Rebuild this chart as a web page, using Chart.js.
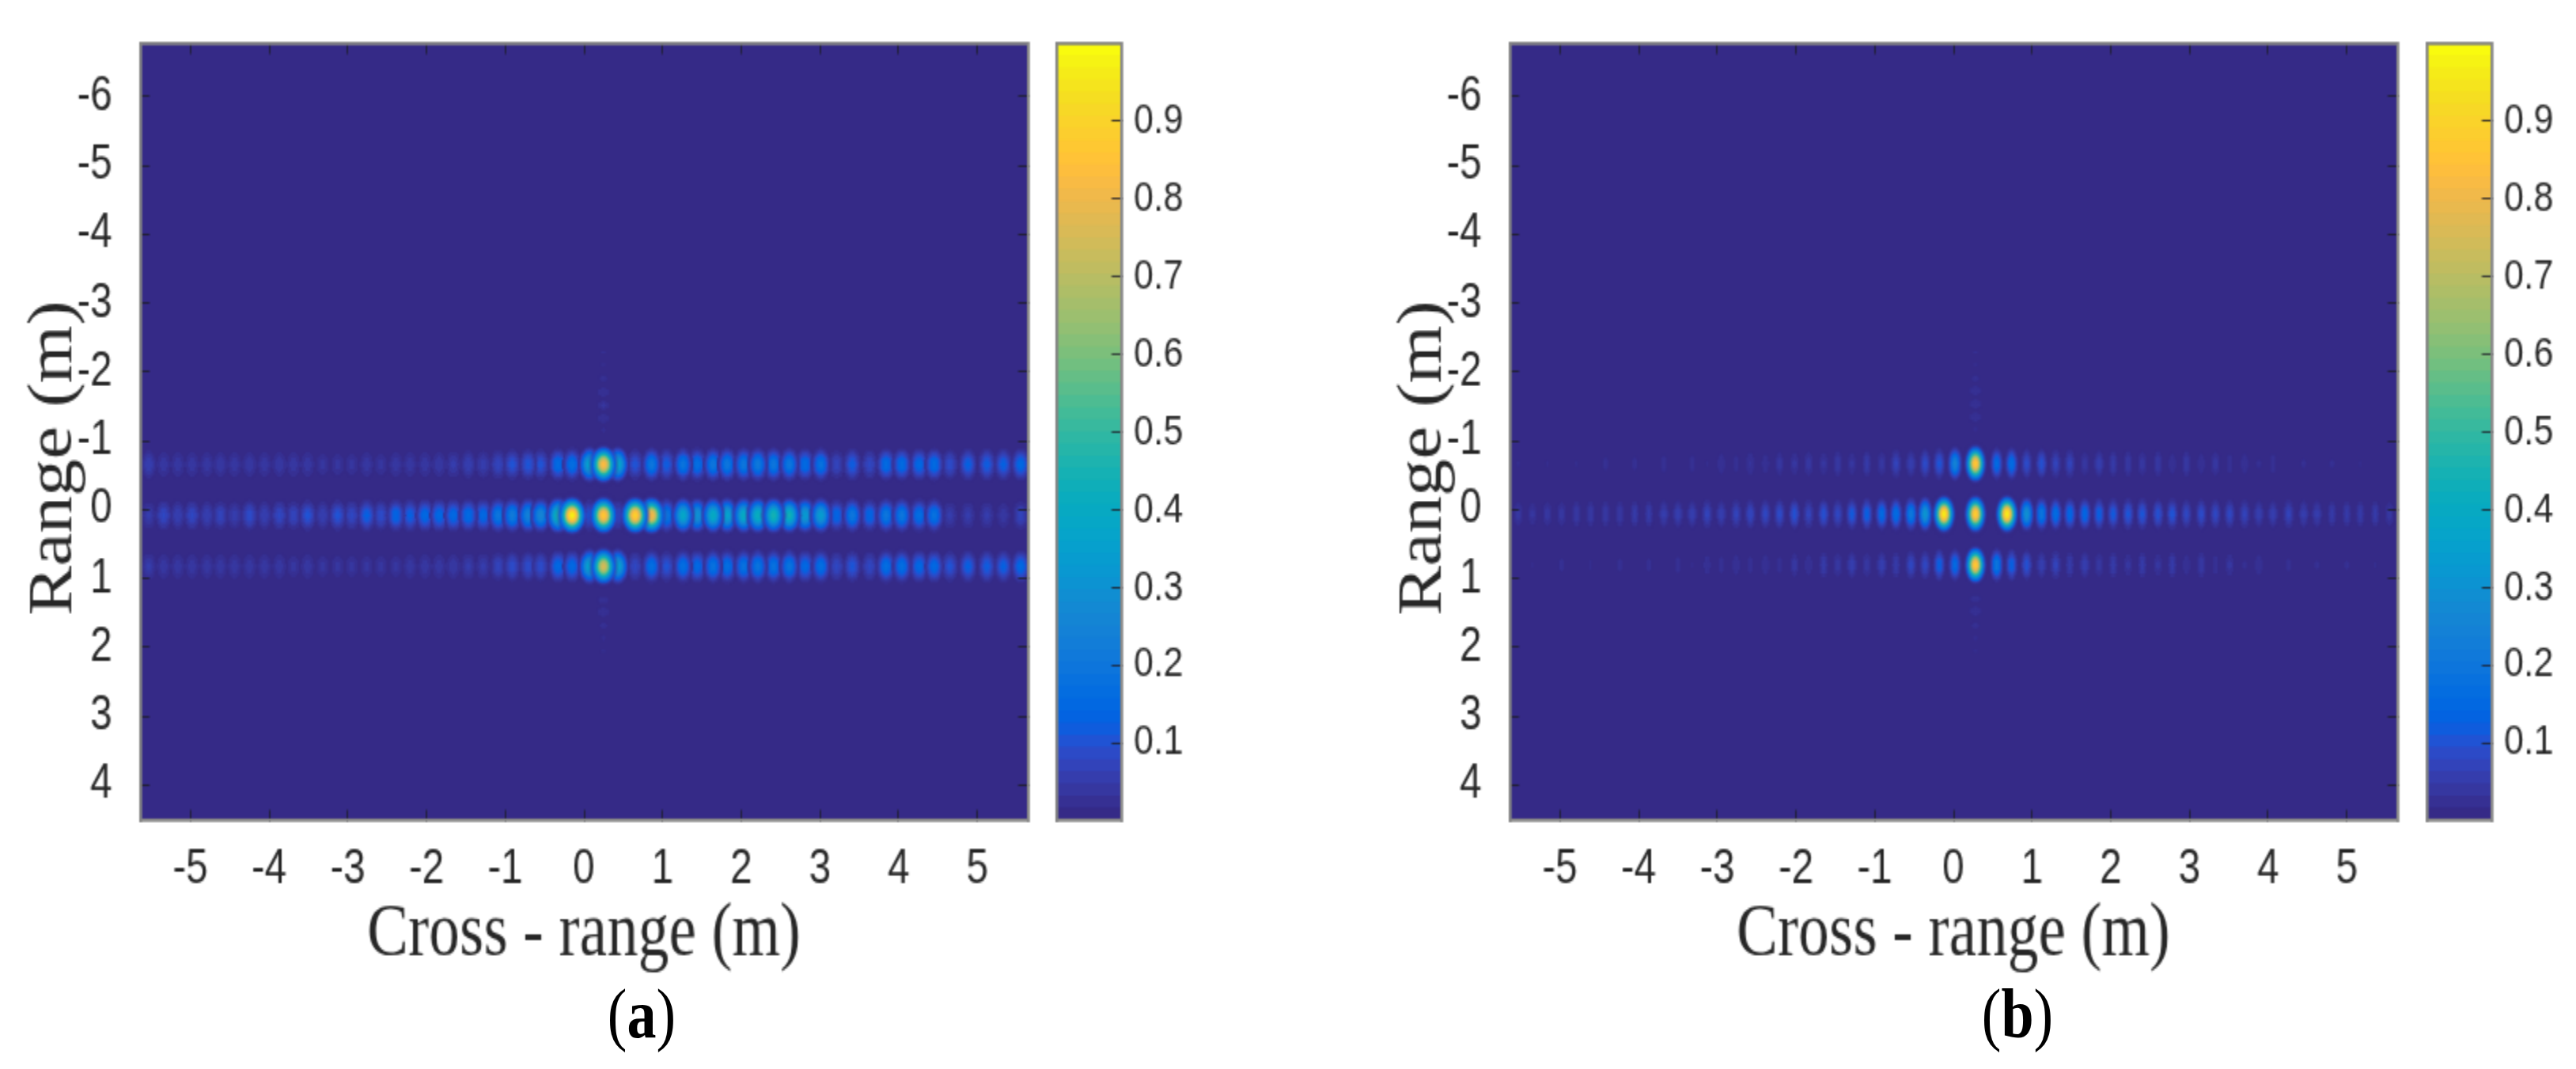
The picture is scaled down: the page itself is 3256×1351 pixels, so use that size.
<!DOCTYPE html>
<html>
<head>
<meta charset="utf-8">
<script src="https://cdn.jsdelivr.net/npm/chart.js@4/dist/chart.umd.min.js"></script>
<style>
  html, body { margin: 0; background: #fff; width: 3256px; height: 1351px; overflow: hidden; }
  canvas { position: absolute; top: 0; transform: scale(2, 2.4); transform-origin: 0 0; }
  .caption { position: absolute; top: 1231px; font: 74px "Liberation Serif"; color: #000;
             transform: translateX(-50%) scaleY(1.2); transform-origin: 50% 0; }
</style>
</head>
<body>
<canvas id="panelA" width="660" height="563" style="left:0"></canvas>
<canvas id="barA" width="110" height="563" style="left:1320px"></canvas>
<canvas id="panelB" width="660" height="563" style="left:1731px"></canvas>
<canvas id="barB" width="110" height="563" style="left:3052px"></canvas>
<div class="caption" style="left:811px">(<b>a</b>)</div>
<div class="caption" style="left:2550px">(<b>b</b>)</div>
<script>
const xTicks = [-5, -4, -3, -2, -1, 0, 1, 2, 3, 4, 5];
const yTicks = [-6, -5, -4, -3, -2, -1, 0, 1, 2, 3, 4];
const barTicks = [0.1, 0.2, 0.3, 0.4, 0.5, 0.6, 0.7, 0.8, 0.9];
const xRange = [-5.64, 5.64];
const yRange = [-6.77, 4.51];

// parula, 64 levels, same as the colorbar
const parula = ['#352a87','#363093','#3637a0','#353dad','#3243ba','#2c4ac7','#2053d4','#0f5cdd',
  '#0363e1','#0268e1','#046de0','#0871de','#0d75dc','#1079da','#127dd8','#1481d6',
  '#1485d4','#1389d3','#108ed2','#0c93d2','#0998d1','#079ccf','#06a0cd','#06a4ca',
  '#06a7c6','#07a9c2','#0aacbe','#0faeb9','#15b1b4','#1db3af','#25b5a9','#2eb7a4',
  '#38b99e','#42bb98','#4dbc92','#59bd8c','#65be86','#71bf80','#7cbf7b','#87bf77',
  '#92bf73','#9cbf6f','#a5be6b','#aebe67','#b7bd64','#c0bc60','#c8bc5d','#d1bb59',
  '#d9ba56','#e1b952','#e9b94e','#f1b94a','#f8bb44','#fdbe3d','#ffc337','#fec832',
  '#fcce2e','#fad32a','#f7d826','#f5de21','#f5e41d','#f5eb18','#f6f313','#f9fb0e'];

// panel (a): lobe centres along cross-range, and lobe peaks in the three range rows
const aRows = [-0.66, 0.08, 0.82];
const aX = [-5.53,-5.34,-5.16,-4.98,-4.79,-4.62,-4.44,-4.25,-4.06,-3.87,-3.69,-3.51,-3.32,-3.13,-2.95,-2.76,-2.58,-2.39,-2.21,-2.02,
  -1.84,-1.66,-1.47,-1.28,-1.09,-0.91,-0.71,-0.55,-0.33,-0.15,0.07,0.25,0.43,0.65,0.86,1.05,1.26,1.44,1.64,1.82,
  2.03,2.21,2.41,2.61,2.81,3.01,3.21,3.41,3.63,3.84,4.04,4.26,4.45,4.65,4.88,5.12,5.33,5.55];
const aTop = [.06,.04,.04,.04,.04,.045,.04,.045,.04,.045,.04,.04,.035,.035,.035,.04,.035,.04,.04,.04,
  .045,.05,.06,.055,.075,.1,.11,.1,.16,.17,.36,.83,.38,.1,.2,.12,.19,.17,.2,.2,
  .2,.21,.2,.2,.16,.18,.07,.12,.08,.16,.16,.15,.16,.09,.13,.12,.13,.15];
const aMid = [.05,.08,.06,.08,.06,.07,.055,.09,.06,.08,.07,.1,.06,.1,.08,.13,.09,.14,.13,.15,
  .15,.15,.16,.15,.2,.22,.24,.26,.45,.97,.1,.87,.08,.9,.82,.2,.38,.3,.4,.36,
  .4,.42,.45,.44,.33,.34,.14,.2,.14,.2,.2,.17,.18,.05,.05,.05,.04,.07];
const aBot = [.05,.04,.04,.04,.04,.04,.04,.04,.04,.04,.035,.04,.035,.035,.035,.035,.035,.035,.04,.04,
  .04,.045,.05,.05,.07,.09,.09,.09,.15,.15,.36,.75,.36,.08,.17,.1,.17,.15,.18,.17,
  .18,.19,.18,.19,.15,.17,.08,.11,.08,.17,.17,.15,.15,.1,.13,.12,.13,.15];
// faint dots above and below the strong column of (a)
const aStreakX = 0.25;
const aStreakY = [-2.29,-2.11,-1.91,-1.71,-1.52,-1.33,-1.16,1.31,1.48,1.68,1.86,2.05];
const aStreakV = [.017,.017,.02,.03,.035,.03,.018,.025,.03,.02,.018,.017];

// panel (b)
const bRows = [-0.67, 0.06, 0.80];
const bX = [-5.53,-5.35,-5.16,-4.98,-4.79,-4.61,-4.42,-4.24,-4.05,-3.87,-3.68,-3.50,-3.32,-3.13,-2.95,-2.76,-2.58,-2.39,-2.21,-2.02,
  -1.84,-1.65,-1.47,-1.29,-1.10,-0.91,-0.73,-0.54,-0.36,-0.18,-0.12,0.02,0.28,0.55,0.68,0.74,0.93,1.12,1.30,1.48,
  1.67,1.85,2.03,2.22,2.40,2.60,2.78,2.96,3.15,3.33,3.51,3.70,3.88,4.06,4.26,4.45,4.62,4.81,5.00,5.17,5.36,5.54];
const bTop = [.016,0,.016,0,.016,0,.02,0,.02,0,.022,0,.022,.016,.028,.022,.033,.026,.038,.035,
  .04,.035,.045,.035,.05,.04,.07,.06,.09,.11,0,.25,.88,.16,0,.17,.09,.1,.07,.07,
  .04,.06,.05,.045,.04,.045,.03,.045,.03,.04,.025,.03,.018,.025,0,.018,0,.018,0,.016,0,0];
const bMid = [.04,.035,.04,.04,.045,.045,.045,.045,.05,.05,.055,.06,.06,.07,.06,.07,.075,.08,.09,.1,
  .07,.1,.08,.12,.13,.16,.17,.21,.32,0,.97,0,.9,0,.97,0,.3,.2,.17,.15,
  .15,.13,.12,.11,.11,.1,.105,.08,.09,.08,.08,.07,.06,.06,.07,.055,.055,.05,.05,.05,.05,.04];
const bBot = [0,.016,0,.02,0,.017,0,.02,0,.02,0,.024,.016,.026,.022,.03,.022,.03,.022,.038,
  .03,.05,.04,.06,.04,.06,.05,.08,.08,.13,0,.16,.88,.2,0,.13,.1,.06,.07,.05,
  .06,.04,.05,.035,.05,.035,.05,.03,.045,.025,.035,.018,.03,0,.02,0,.018,0,.018,0,.016,0];
const bStreakX = 0.28;
const bStreakY = [-2.29,-2.11,-1.91,-1.73,-1.54,-1.35,-1.17,1.29,1.47,1.68,1.86,2.05];
const bStreakV = [.017,.017,.02,.03,.03,.03,.018,.025,.03,.02,.018,.017];

const inkColor = '#262626';
const frameColor = '#858585';
const tickColor = 'rgba(30,30,40,0.8)';
const tickFont = { family: 'Liberation Sans', size: 25 };
const titleFont = { family: 'Liberation Serif', size: 39 };

const TOP_H = 23, BOTTOM_H = 131;

// one lobe as a small picture, coloured through the colormap
const spriteCache = {};
function lobeSprite(v, sx, sy) {
  const key = v + '_' + sx + '_' + sy;
  if (spriteCache[key]) return spriteCache[key];
  const rx = Math.ceil(sx * 3.4), ry = Math.ceil(sy * 3.4);
  const c = document.createElement('canvas');
  c.width = rx * 2 + 1;
  c.height = ry * 2 + 1;
  const g = c.getContext('2d');
  const img = g.createImageData(c.width, c.height);
  for (let j = 0; j < c.height; j++) {
    for (let i = 0; i < c.width; i++) {
      const dx = i - rx, dy = j - ry;
      // a bit flatter on top than a plain gaussian
      const f = Math.exp(-Math.pow(dx * dx / (2 * sx * sx) + dy * dy / (2 * sy * sy), 1.2));
      const level = Math.min(63, Math.floor(v * f * 64));
      if (level < 1) continue;
      const hex = parula[level];
      const p = (j * c.width + i) * 4;
      img.data[p] = parseInt(hex.slice(1, 3), 16);
      img.data[p + 1] = parseInt(hex.slice(3, 5), 16);
      img.data[p + 2] = parseInt(hex.slice(5, 7), 16);
      img.data[p + 3] = 255 * Math.min(1, (f - 0.01) / 0.12);
    }
  }
  g.putImageData(img, 0, 0);
  spriteCache[key] = c;
  return c;
}

const plotBackground = {
  id: 'plotBackground',
  beforeDatasetsDraw(chart) {
    const a = chart.chartArea;
    chart.ctx.fillStyle = parula[0];
    chart.ctx.fillRect(a.left, a.top, a.width, a.height);
  }
};

function frameAxis(position, size, ticks, extra) {
  return Object.assign({
    position,
    display: true,
    afterFit(scale) {
      if (position === 'left' || position === 'right') scale.width = size;
      else scale.height = size;
      // tick padding must not push the plot area in
      scale.paddingTop = scale.paddingBottom = scale.paddingLeft = scale.paddingRight = 0;
    },
    afterBuildTicks(scale) { scale.ticks = ticks.map(value => ({ value })); },
    border: { display: true, color: frameColor, width: 1.8, z: 1 },
    grid: {
      display: true, drawOnChartArea: false, drawTicks: ticks.length > 0,
      tickLength: (position === 'left' || position === 'right') ? -6 : -5.5,
      tickColor, tickWidth: 1, z: 1
    },
    ticks: { display: false }
  }, extra);
}

function lobePoints(xs, row, vals) {
  const pts = [];
  xs.forEach((x, i) => { if (vals[i] > 0) pts.push({ x, y: row, v: vals[i] }); });
  return pts;
}

function makePanel(id, xs, rows, top, mid, bot, streakX, streakY, streakV, sx, sxGain, sy) {
  const lobes = [...lobePoints(xs, rows[0], top), ...lobePoints(xs, rows[1], mid), ...lobePoints(xs, rows[2], bot)];
  lobes.sort((p, q) => p.v - q.v);
  const dots = streakY.map((y, i) => ({ x: streakX, y, v: streakV[i] }));
  new Chart(document.getElementById(id), {
    type: 'scatter',
    data: {
      datasets: [
        { data: dots, pointRadius: 5, pointStyle: c => lobeSprite(c.raw.v, 3, 1.8) },
        {
          data: lobes, pointRadius: 5,
          // strong lobes read wider in the picture
          pointStyle: c => lobeSprite(c.raw.v, sx + sxGain * c.raw.v, sy)
        }
      ]
    },
    options: {
      responsive: false, animation: false, events: [],
      layout: { padding: 0 },
      plugins: { legend: { display: false }, tooltip: { enabled: false } },
      scales: {
        x: frameAxis('bottom', BOTTOM_H, xTicks, {
          type: 'linear', min: xRange[0], max: xRange[1],
          ticks: { display: true, autoSkip: false, maxRotation: 0, font: tickFont, color: inkColor, padding: 17 },
          title: { display: true, text: 'Cross - range (m)', font: titleFont, color: inkColor, padding: { top: 0, bottom: 47 } }
        }),
        xTop: frameAxis('top', TOP_H, xTicks, { type: 'linear', min: xRange[0], max: xRange[1] }),
        y: frameAxis('left', 88.5, yTicks, {
          type: 'linear', reverse: true, min: yRange[0], max: yRange[1],
          ticks: { display: true, autoSkip: false, font: tickFont, color: inkColor, padding: 23.5 },
          title: { display: true, text: 'Range (m)\u2002\u2009', font: titleFont, color: inkColor, padding: { top: 11, bottom: 0 } }
        }),
        yRight: frameAxis('right', 10.5, yTicks, { type: 'linear', reverse: true, min: yRange[0], max: yRange[1] })
      }
    },
    plugins: [plotBackground]
  });
}

function makeColorbar(id) {
  new Chart(document.getElementById(id), {
    type: 'bar',
    data: {
      labels: [''],
      // the first dataset is painted last, so each level only shows above the one before it
      datasets: parula.map((color, i) => ({
        data: [[0, (i + 1) / parula.length]],
        backgroundColor: color,
        grouped: false,
        barPercentage: 1,
        categoryPercentage: 1
      }))
    },
    options: {
      responsive: false, animation: false, events: [],
      layout: { padding: 0 },
      plugins: { legend: { display: false }, tooltip: { enabled: false } },
      scales: {
        x: frameAxis('bottom', BOTTOM_H, [], { type: 'category' }),
        xTop: frameAxis('top', TOP_H, [], { type: 'category' }),
        yLeft: frameAxis('left', 7.5, [], { type: 'linear', min: 0, max: 1 }),
        y: frameAxis('right', 61.5, barTicks, {
          type: 'linear', min: 0, max: 1,
          ticks: { display: true, autoSkip: false, font: { family: 'Liberation Sans', size: 22.5 }, color: inkColor, padding: 14, callback: v => v.toFixed(1) }
        })
      }
    }
  });
}

makePanel('panelA', aX, aRows, aTop, aMid, aBot, aStreakX, aStreakY, aStreakV, 2.9, 1.2, 4.5);
makePanel('panelB', bX, bRows, bTop, bMid, bBot, bStreakX, bStreakY, bStreakV, 1.9, 1.3, 4.5);
makeColorbar('barA');
makeColorbar('barB');
</script>
</body>
</html>
